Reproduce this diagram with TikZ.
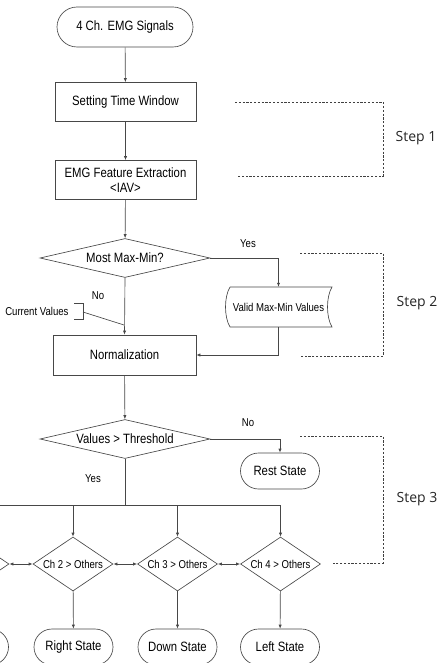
\documentclass[tikz,border=0pt]{standalone}
\usepackage{fontspec}
\newfontfamily\flowfont[FakeStretch=0.84]{Liberation Sans}
\newfontfamily\stepfont{Open Sans}
\usetikzlibrary{shapes.geometric,arrows.meta}

\begin{document}
\begin{tikzpicture}[x=1pt,y=-1pt,
    line/.style={draw=black!72, line width=0.65pt},
    arr/.style={line, -{Latex[length=4pt,width=3.2pt]}},
    darr/.style={line, {Latex[length=4pt,width=3.2pt]}-{Latex[length=4pt,width=3.2pt]}},
    bigtxt/.style={font=\flowfont\fontsize{13.5}{15}\selectfont},
    smalltxt/.style={font=\flowfont\fontsize{11.4}{13}\selectfont},
    box/.style={line, rectangle, minimum width=141pt, minimum height=39pt, inner sep=0pt, align=center, bigtxt},
    term/.style={line, rectangle, rounded corners=18pt, minimum width=79pt, minimum height=36pt, inner sep=0pt, bigtxt},
    decision/.style={line, diamond, aspect=4.36, minimum width=170pt, minimum height=39pt, inner sep=0pt, bigtxt},
    chdec/.style={line, diamond, aspect=1.48, minimum width=80pt, minimum height=54pt, inner sep=0pt, smalltxt},
    stepline/.style={draw=black!75, line width=0.6pt, dash pattern=on 2.2pt off 1.6pt},
    steptxt/.style={font=\stepfont\fontsize{14}{16}\selectfont, text=black!85}]

    \useasboundingbox (0,0) rectangle (437,663);
    \clip (0,0) rectangle (437,663);

    % Main column
    \node[term, minimum width=136pt, minimum height=40pt, rounded corners=20pt] (start) at (125,27) {4 Ch. EMG Signals};
    \node[box] (window) at (125.5,102) {Setting Time Window};
    \node[box] (feature) at (125.5,180) {EMG Feature Extraction\\<IAV>};
    \node[decision] (maxmin) at (125,258) {Most Max-Min?};
    \node[box, minimum width=143pt, minimum height=40pt] (norm) at (124.5,355) {Normalization};
    \node[decision] (thresh) at (125,439) {Values > Threshold};

    % Stored max-min values
    \node[rectangle, minimum width=107pt, minimum height=40pt, inner sep=0pt, smalltxt] (valid) at (278.5,307) {Valid Max-Min Values};
    \draw[line] (230,287) -- (332,287)
        .. controls (326,297) and (326,317) .. (332,327) -- (230,327)
        .. controls (224,317) and (224,297) .. (230,287);

    % Rest state
    \node[term] (rest) at (280,471) {Rest State};

    % Channel comparison
    \node[chdec] (ch1) at (-31,564) {Ch 1 > Others};
    \node[chdec] (ch2) at (73,564) {Ch 2 > Others};
    \node[chdec] (ch3) at (177.5,564) {Ch 3 > Others};
    \node[chdec] (ch4) at (280.5,564) {Ch 4 > Others};

    \node[term] (up) at (-31,647) {};
    \node[term] (right) at (73.5,647) {Right State};
    \node[term] (down) at (177.5,647) {Down State};
    \node[term] (left) at (280,647) {Left State};

    % Connectors
    \draw[arr] (start) -- (window);
    \draw[arr] (window) -- (feature);
    \draw[arr] (feature) -- (maxmin);
    \draw[arr] (maxmin.east) -| (valid.north);
    \draw[arr] (maxmin.south) -- (norm.north);
    \draw[arr] (valid.south) |- (norm.east);
    \draw[arr] (norm) -- (thresh);
    \draw[arr] (thresh.east) -| (rest.north);

    \coordinate (split) at (125,505);
    \draw[line] (thresh.south) -- (split);
    \draw[line] (ch1.north |- split) -- (ch4.north |- split);
    \foreach \c in {ch1,ch2,ch3,ch4}
        \draw[arr] (\c.north |- split) -- (\c.north);

    \draw[darr] (ch1.east) -- (ch2.west);
    \draw[darr] (ch2.east) -- (ch3.west);
    \draw[darr] (ch3.east) -- (ch4.west);

    \draw[arr] (ch1) -- (up);
    \draw[arr] (ch2) -- (right);
    \draw[arr] (ch3) -- (down);
    \draw[arr] (ch4) -- (left);

    % Branch labels
    \node[smalltxt] (yes1) at (248,244) {Yes};
    \node[smalltxt] (no1) at (98,296) {No};
    \node[smalltxt] (no2) at (248,423) {No};
    \node[smalltxt] (yes2) at (93,479) {Yes};

    % Annotation
    \node[smalltxt, anchor=east] (cur) at (72,311) {Current Values};
    \coordinate (noteend) at (124,325);
    \draw[line] (74,303) -- (83,303) -- (83,319) -- (74,319);
    \draw[line] (83,312) -- (noteend);

    % Step brackets
    \draw[stepline] (235,102) -- (383,102) -- (383,176) -- (237,176);
    \node[steptxt] (step1) at (416,138) {Step 1};
    \draw[stepline] (300,253) -- (383,253) -- (383,356) -- (300,356);
    \node[steptxt] (step2) at (417,303) {Step 2};
    \draw[stepline] (300,436) -- (383,436) -- (383,563) -- (333,563);
    \node[steptxt] (step3) at (417,499) {Step 3};
\end{tikzpicture}
\end{document}
